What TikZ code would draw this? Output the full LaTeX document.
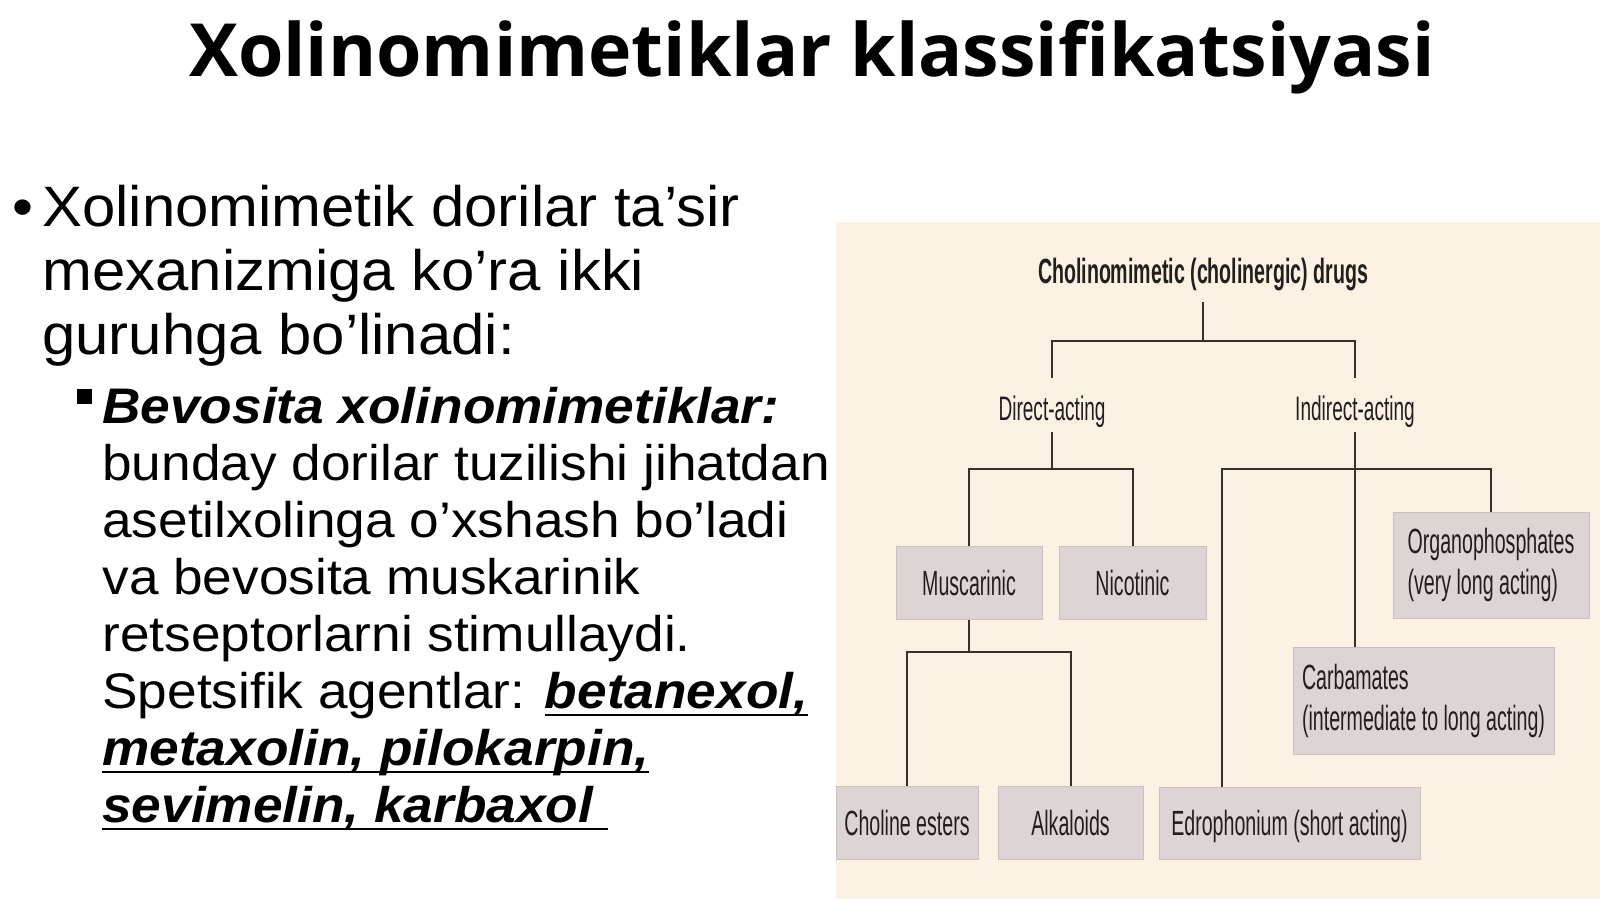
\documentclass[tikz,border=0pt]{standalone}
\usepackage{fontspec}
\setmainfont{Liberation Sans}[FakeStretch=1.05]
\newfontfamily\subfont[FakeStretch=1.064]{Liberation Sans}
\newfontfamily\titlefont{Open Sans}
\newfontfamily\diagfont[FakeStretch=0.56]{Liberation Sans}
\usetikzlibrary{positioning,calc}
\definecolor{panelbg}{RGB}{251,242,228}
\definecolor{boxfill}{RGB}{221,212,212}
\definecolor{boxedge}{RGB}{202,192,192}
\definecolor{connline}{RGB}{55,48,45}
\definecolor{diagtext}{RGB}{35,30,30}
\newcommand{\undl}[1]{\setbox0\hbox{#1}\rlap{\rule[-3.5pt]{\wd0}{1pt}}\box0}
\tikzstyle{cbox}=[rectangle, fill=boxfill, draw=boxedge, line width=0.5pt, inner sep=0pt, text=diagtext, font=\diagfont\fontsize{17.5}{20.5}\selectfont]
\tikzstyle{onebox}=[cbox, text height=12.5pt, text depth=0pt]
\tikzstyle{twobox}=[cbox, align=left]
\tikzstyle{clabel}=[text=diagtext, inner xsep=2pt, inner ysep=6pt, text height=15pt, text depth=0pt, font=\diagfont\fontsize{17}{20}\selectfont]
\tikzstyle{conn}=[draw=connline, line width=1pt]

\begin{document}
\begin{tikzpicture}[x=0.5pt, y=-0.5pt]
				\useasboundingbox (0,0) rectangle (1600,899);
				\fill[white] (0,0) rectangle (1600,899);
				\node[anchor=base, inner sep=0pt, font=\titlefont\bfseries\fontsize{36.7}{40}\selectfont] (title) at (812,77) {Xolinomimetiklar klassifikatsiyasi};
				\node[anchor=base west, inner sep=0pt, font=\fontsize{28.5}{32}\selectfont] (dot) at (12,226) {•};
				\node[anchor=north west, inner sep=0pt, align=left, font=\fontsize{28.5}{32}\selectfont] (intro) at (42,185) {Xolinomimetik dorilar ta’sir\\ mexanizmiga ko’ra ikki\\ guruhga bo’linadi:};
				\node[fill=black, inner sep=0pt, minimum size=7.5pt] (sq) at (84.5,396) {};
				\node[anchor=north west, inner sep=0pt, align=left, font=\subfont\fontsize{25}{28.5}\selectfont] (detail) at (102,387) {\textbf{\textit{Bevosita xolinomimetiklar:}}\\ bunday dorilar tuzilishi jihatdan\\ asetilxolinga o’xshash bo’ladi\\ va bevosita muskarinik\\ retseptorlarni stimullaydi.\\ Spetsifik agentlar: \textbf{\textit{\undl{betanexol,}}}\\ \textbf{\textit{\undl{metaxolin, pilokarpin,}}}\\ \textbf{\textit{\undl{sevimelin, karbaxol\ }}}};
				\fill[panelbg] (836,222) rectangle (1600,899);
				\node[clabel, inner ysep=9.5pt, anchor=base, font=\diagfont\bfseries\fontsize{17.5}{20}\selectfont] (drugs) at (1203,283) {Cholinomimetic (cholinergic) drugs};
				\node[clabel, anchor=base] (direct) at (1052,420) {Direct-acting};
				\node[clabel, anchor=base] (indirect) at (1355,420) {Indirect-acting};
				\node[onebox, minimum width=73pt, minimum height=36.5pt] (musc) at (969,582.5) {Muscarinic};
				\node[onebox, minimum width=73.5pt, minimum height=36.5pt] (nico) at (1132.5,582.5) {Nicotinic};
				\node[twobox, minimum width=98pt, minimum height=53pt] (organo) at (1491,565) {Organophosphates\\ (very long acting)};
				\node[twobox, minimum width=130.5pt, minimum height=53.5pt] (carb) at (1423.5,700.5) {Carbamates\\ (intermediate to long acting)};
				\node[onebox, minimum width=71pt, minimum height=36.5pt] (choline) at (907,822.5) {Choline esters};
				\node[onebox, minimum width=72.5pt, minimum height=36.5pt] (alk) at (1070.5,822.5) {Alkaloids};
				\node[onebox, minimum width=130.5pt, minimum height=36pt] (edro) at (1289.5,823) {Edrophonium (short acting)};
				\draw[conn] (drugs.south) -- ++(0,39) -| (direct.north);
				\draw[conn] (drugs.south) ++(0,39) -| (indirect.north);
				\draw[conn] (direct.south) -- ++(0,37) -| (musc.north);
				\draw[conn] (direct.south) ++(0,37) -| (nico.north);
				\draw[conn] (indirect.south) -- (indirect.south |- carb.north);
				\draw[conn] ($(edro.north west)+(63,0)$) |- ($(indirect.south)+(0,37)$) -| (organo.north);
				\draw[conn] (musc.south) -- ++(0,32) -| (choline.north);
				\draw[conn] (musc.south) ++(0,32) -| (alk.north);
			\end{tikzpicture}
\end{document}
